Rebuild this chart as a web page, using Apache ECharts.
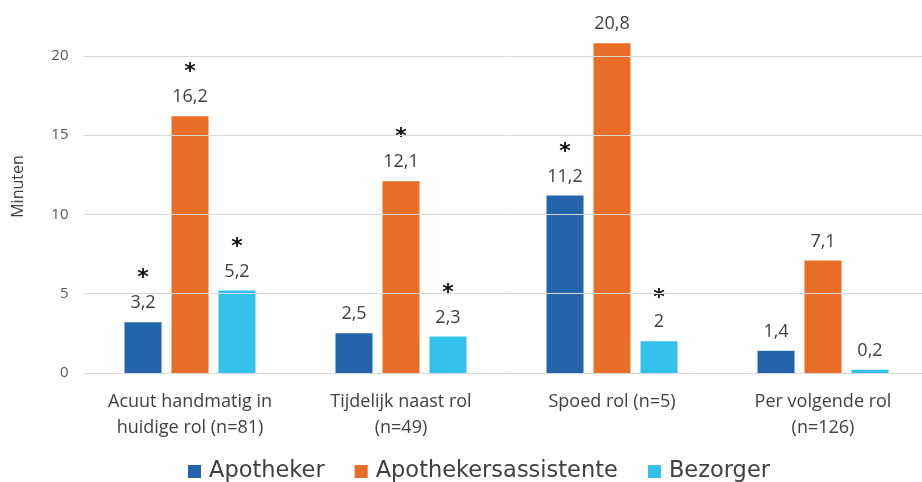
<!DOCTYPE html>
<html>
<head>
<meta charset="utf-8">
<script src="https://cdn.jsdelivr.net/npm/echarts@6/dist/echarts.min.js"></script>
<style>
html,body{margin:0;padding:0;background:#fff;overflow:hidden;width:922px;height:482px;}
#chart{width:940px;height:482px;}
</style>
</head>
<body>
<div id="chart"></div>
<script>
const categories = ['Acuut handmatig in\nhuidige rol (n=81)', 'Tijdelijk naast rol\n(n=49)', 'Spoed rol (n=5)', 'Per volgende rol\n(n=126)'];
const seriesNames = ['Apotheker', 'Apothekersassistente', 'Bezorger'];
const apotheker = [3.2, 2.5, 11.2, 1.4];
const assistente = [16.2, 12.1, 20.8, 7.1];
const bezorger = [5.2, 2.3, 2, 0.2];
const sigApotheker = [true, false, true, false];
const sigAssistente = [true, true, false, false];
const sigBezorger = [true, true, true, false];
const yTicks = [0, 5, 10, 15, 20];
const yMax = 23.53;

const colors = ['#2364aa', '#e86d26', '#33c1ec'];
const chart = echarts.init(document.getElementById('chart'));

function fmt(v) { return String(v).replace('.', ','); }

function makeSeries(name, values, sig, color) {
  return {
    name: name,
    type: 'bar',
    z: 3,
    barWidth: 37,
    barGap: '27%',
    itemStyle: { color: color },
    data: values,
    label: {
      show: true,
      position: 'top',
      distance: 7,
      formatter: function (p) {
        const v = '{v|' + fmt(p.value) + '}';
        return sig[p.dataIndex] ? '{s|*}\n' + v : v;
      },
      rich: {
        v: { fontFamily: 'Open Sans', fontSize: 18, color: '#404040', lineHeight: 24 },
        s: { fontFamily: 'DejaVu Sans', fontSize: 22, fontWeight: 'bold', color: '#111', lineHeight: 26, padding: [0,0,-1,0] }
      }
    }
  };
}

chart.setOption({
  animation: false,
  backgroundColor: '#fff',
  grid: { left: 84.5, width: 844, top: 0, height: 373, containLabel: false },
  legend: {
    data: seriesNames,
    left: 183,
    top: 455,
    icon: 'rect',
    itemWidth: 13,
    itemHeight: 13,
    itemGap: 30,
    textStyle: { fontFamily: 'DejaVu Sans', fontSize: 22.5, color: '#404040', padding: [0,0,0,3] }
  },
  xAxis: {
    type: 'category',
    data: categories,
    axisLine: { lineStyle: { color: '#d9d9d9' } },
    axisTick: { show: false },
    axisLabel: { margin: 16, fontFamily: 'Open Sans', fontSize: 18, color: '#404040', lineHeight: 26, interval: 0 }
  },
  yAxis: {
    type: 'value',
    min: 0,
    max: yMax,
    interval: 5,
    name: 'Minuten',
    nameLocation: 'middle',
    nameRotate: 90,
    nameGap: 58,
    nameTextStyle: { fontFamily: 'Open Sans', fontSize: 16, color: '#404040' },
    axisLine: { show: false },
    axisTick: { show: false },
    splitLine: { show: false },
    axisLabel: {
      margin: 16,
      fontFamily: 'Open Sans', fontSize: 15, color: '#595959',
      formatter: function (v) { return yTicks.indexOf(v) >= 0 ? String(v) : ''; }
    }
  },
  series: [
    {
      name: 'grid',
      type: 'line',
      z: 1,
      data: [],
      silent: true,
      markLine: {
        silent: true,
        symbol: 'none',
        label: { show: false },
        lineStyle: { color: '#d9d9d9', width: 1, type: 'solid' },
        data: yTicks.map(function (t) { return { yAxis: t }; })
      }
    },
    makeSeries(seriesNames[0], apotheker, sigApotheker, colors[0]),
    makeSeries(seriesNames[1], assistente, sigAssistente, colors[1]),
    makeSeries(seriesNames[2], bezorger, sigBezorger, colors[2])
  ]
});
</script>
</body>
</html>
